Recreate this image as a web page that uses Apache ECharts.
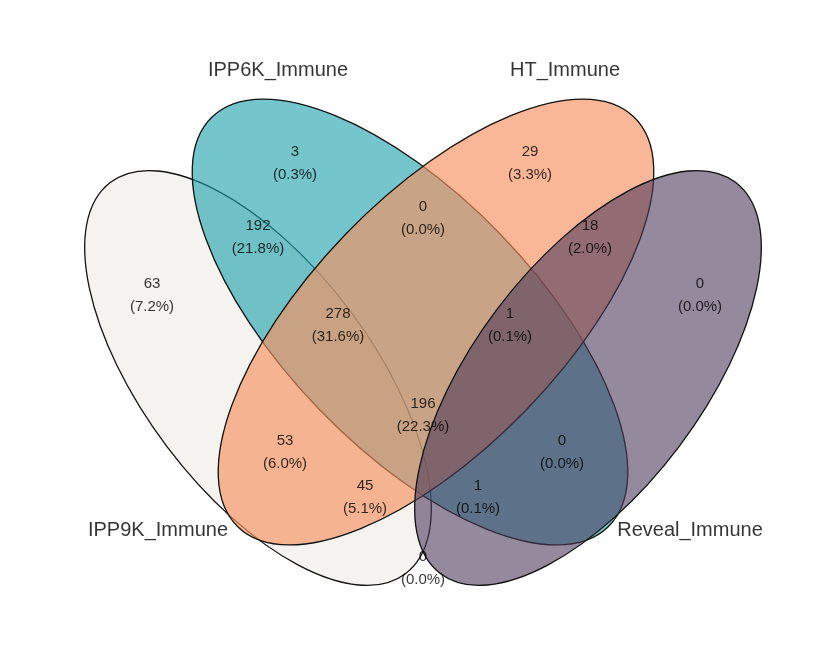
<!DOCTYPE html>
<html><head><meta charset="utf-8">
<script src="https://cdn.jsdelivr.net/npm/echarts@6/dist/echarts.min.js"></script>
<style>html,body{margin:0;padding:0;background:#fff}#c{width:833px;height:663px}</style>
</head><body><div id="c"></div>
<script>
const setNames = ['IPP9K_Immune','IPP6K_Immune','HT_Immune','Reveal_Immune'];
const setColors = ['rgba(236,235,230,0.6)','rgba(31,163,173,0.62)','rgba(247,144,95,0.65)','rgba(79,59,92,0.6)'];
// ellipse geometry: center x, center y, semi-major, semi-minor, tilt (deg, screen clockwise)
const ellipseCx = [258, 410, 436, 588];
const ellipseCy = [378, 322, 322, 378];
const ellipseA = [245, 285, 285, 245];
const ellipseB = [114, 126, 126, 114];
const ellipseTilt = [53, 46, -46, -53];
const setLabelX = [158, 278, 565, 690];
const setLabelY = [530, 70, 70, 530];
const regionCounts = [63, 3, 29, 0, 192, 0, 18, 278, 1, 53, 196, 0, 45, 1, 0];
const regionX = [152, 295, 530, 700, 258, 423, 590, 338, 510, 285, 423, 562, 365, 478, 423];
const regionY = [295, 163, 163, 295, 237, 218, 237, 325, 325, 452, 415, 452, 497, 497, 568];
const total = 879;

const chart = echarts.init(document.getElementById('c'));
chart.setOption({
  animation:false,
  grid:{left:0,right:0,top:0,bottom:0},
  xAxis:{type:'value',min:0,max:833,show:false},
  yAxis:{type:'value',min:0,max:663,inverse:true,show:false},
  series:[
    {type:'custom',silent:true,
     data:ellipseCx.map((x,i)=>[x,ellipseCy[i],ellipseA[i],ellipseB[i],ellipseTilt[i],i]),
     renderItem:(params,api)=>{
       const p=api.coord([api.value(0),api.value(1)]);
       const s=api.size([api.value(2),api.value(3)]);
       const i=api.value(5);
       return {type:'ellipse',x:p[0],y:p[1],rotation:-api.value(4)*Math.PI/180,
         shape:{cx:0,cy:0,rx:s[0],ry:s[1]},
         style:{fill:setColors[i],stroke:'#111',lineWidth:1.3}};
     },z:1},
    {type:'scatter',symbolSize:0,z:5,silent:true,
     data:regionCounts.map((v,i)=>[regionX[i],regionY[i],v]),
     label:{show:true,position:'inside',color:'#000',fontSize:15,fontFamily:'Liberation Sans',lineHeight:23,
       formatter:p=>p.value[2]+'\n('+(p.value[2]/total*100).toFixed(1)+'%)'}},
    {type:'scatter',symbolSize:0,z:5,silent:true,
     data:setNames.map((n,i)=>({value:[setLabelX[i],setLabelY[i]],name:n})),
     label:{show:true,position:'inside',color:'#000',fontSize:20,fontFamily:'Liberation Sans',formatter:p=>p.name}}
  ]
});
</script></body></html>
